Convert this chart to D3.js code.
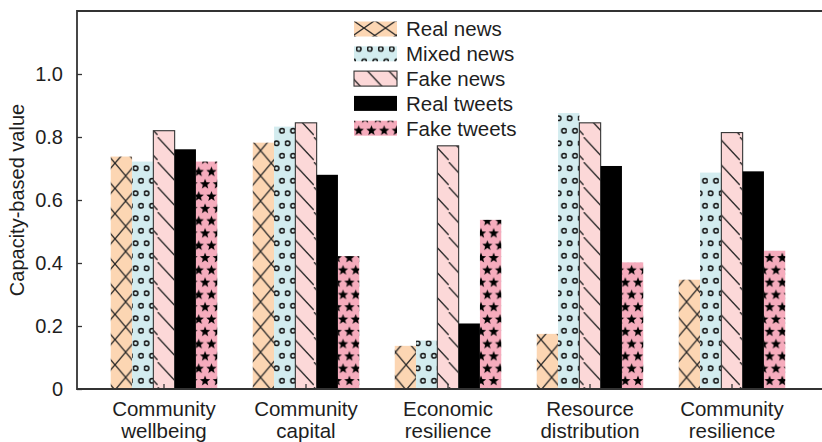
<!DOCTYPE html>
<html>
<head>
<meta charset="utf-8">
<script src="https://cdn.jsdelivr.net/npm/d3@7"></script>
<style>
  html, body { margin: 0; padding: 0; background: #fff; }
  svg { display: block; font-family: "Liberation Sans", Arial, sans-serif; }
</style>
</head>
<body>
<svg id="chart" width="822" height="442"></svg>
<script>
// Categories (two-line labels) and series
const categories = [
  ["Community", "wellbeing"],
  ["Community", "capital"],
  ["Economic", "resilience"],
  ["Resource", "distribution"],
  ["Community", "resilience"]
];
const seriesNames = ["Real news", "Mixed news", "Fake news", "Real tweets", "Fake tweets"];

const realNews   = [0.738, 0.782, 0.137, 0.175, 0.347];
const mixedNews  = [0.722, 0.833, 0.154, 0.876, 0.687];
const fakeNews   = [0.820, 0.845, 0.772, 0.845, 0.814];
const realTweets = [0.761, 0.680, 0.208, 0.708, 0.691];
const fakeTweets = [0.722, 0.422, 0.537, 0.402, 0.439];

const yTicks = [0, 0.2, 0.4, 0.6, 0.8, 1.0];
const yTitle = "Capacity-based value";

const seriesValues = [realNews, mixedNews, fakeNews, realTweets, fakeTweets];
const fills = ["#fcd6b3", "#d3ecef", "#fcd8d8", "#000000", "#f6acbd"];
const ink = "#262626";
const axisColor = "#333";
const textColor = "#1e1e1e";

const svg = d3.select("#chart");
const defs = svg.append("defs");

const margin = { left: 77, top: 11, bottom: 389 };
const y = d3.scaleLinear().domain([0, 1.2]).range([margin.bottom, margin.top]);
const x0 = d3.scaleBand().domain(d3.range(categories.length))
  .range([93, 803]).paddingInner(0.25).paddingOuter(0.125);
const x1 = d3.scaleBand().domain(d3.range(seriesNames.length))
  .range([0, x0.bandwidth()]);
const bw = x1.bandwidth();

// star path for the tweet pattern
function starPath(cx, cy, rOuter, rInner) {
  const pts = [];
  for (let i = 0; i < 10; i++) {
    const r = i % 2 === 0 ? rOuter : rInner;
    const a = -Math.PI / 2 + i * Math.PI / 5;
    pts.push([cx + r * Math.cos(a), cy + r * Math.sin(a)]);
  }
  return "M" + pts.map(p => p[0].toFixed(2) + "," + p[1].toFixed(2)).join("L") + "Z";
}

// Build a pattern anchored at (px, py) for the given series
function makePattern(id, s, px, py, cellW, cellH) {
  const p = defs.append("pattern")
    .attr("id", id)
    .attr("patternUnits", "userSpaceOnUse")
    .attr("x", px).attr("y", py);
  if (s === 0) {
    p.attr("width", cellW).attr("height", cellH);
    p.append("rect").attr("width", cellW).attr("height", cellH).attr("fill", fills[0]);
    p.append("path")
      .attr("d", `M0,0L${cellW},${cellH}M${cellW},0L0,${cellH}`)
      .attr("stroke", ink).attr("stroke-width", 1.3).attr("fill", "none");
  } else if (s === 1) {
    const w = 11, h = 25;
    p.attr("width", w).attr("height", h);
    p.append("rect").attr("width", w).attr("height", h).attr("fill", fills[1]);
    [[2.75, 6.25], [8.25, 18.75]].forEach(([cx, cy]) => {
      p.append("circle").attr("cx", cx).attr("cy", cy).attr("r", 2.3)
        .attr("fill", "none").attr("stroke", "#1a1a1a").attr("stroke-width", 1.6);
    });
  } else if (s === 2) {
    const w = cellW, h = 25;
    p.attr("width", w).attr("height", h);
    p.append("rect").attr("width", w).attr("height", h).attr("fill", fills[2]);
    p.append("path")
      .attr("d", `M0,0L${w},${h * 0.92}`)
      .attr("stroke", ink).attr("stroke-width", 1.3).attr("fill", "none");
  } else if (s === 4) {
    const w = 12.7, h = 24.6;
    p.attr("width", w).attr("height", h);
    p.append("rect").attr("width", w).attr("height", h).attr("fill", fills[4]);
    const stars = [[0, 0], [w, 0], [0, h], [w, h], [w / 2, h / 2]];
    stars.forEach(([cx, cy]) => {
      p.append("path").attr("d", starPath(cx, cy, 5.4, 2.3)).attr("fill", "#000");
    });
  }
  return `url(#${id})`;
}

function fillFor(s, id, px, py, cellW, cellH) {
  if (s === 3) return fills[3];
  return makePattern(id, s, px, py, cellW, cellH);
}

// Frame: left axis, bottom axis and top border
svg.append("path")
  .attr("d", `M830,${margin.top}H${margin.left}V${margin.bottom}H830`)
  .attr("fill", "none").attr("stroke", axisColor).attr("stroke-width", 1.8);

// Bars
const groups = svg.append("g").selectAll("g")
  .data(categories)
  .join("g")
  .attr("transform", (d, i) => `translate(${x0(i)},0)`);

groups.each(function (cat, ci) {
  const g = d3.select(this);
  seriesValues.forEach((vals, s) => {
    const bx = x0(ci) + x1(s);
    const top = y(vals[ci]);
    const f = fillFor(s, `pat-${s}-${ci}`, bx, margin.top + 1, bw, 25.2);
    g.append("rect")
      .attr("x", x1(s))
      .attr("y", top)
      .attr("width", bw)
      .attr("height", y(0) - top)
      .attr("fill", f)
      .attr("stroke", s === 2 ? "#333" : "none")
      .attr("stroke-width", s === 2 ? 1.1 : 0);
  });
});

// baseline drawn over the bars
svg.append("line")
  .attr("x1", margin.left).attr("x2", 830)
  .attr("y1", margin.bottom).attr("y2", margin.bottom)
  .attr("stroke", axisColor).attr("stroke-width", 1.8);

// Y axis ticks (inward) and labels
const yAxis = d3.axisLeft(y).tickValues(yTicks).tickSizeInner(-5).tickSizeOuter(0)
  .tickPadding(14)
  .tickFormat(d => d === 0 ? "0" : d3.format(".1f")(d));
const yg = svg.append("g").attr("transform", `translate(${margin.left},0)`).call(yAxis);
yg.select(".domain").remove();
yg.selectAll(".tick line").attr("stroke", axisColor).attr("stroke-width", 1.3);
yg.selectAll(".tick text")
  .attr("fill", textColor)
  .style("font-size", "20px")
  .style("font-family", "'Liberation Sans', Arial, sans-serif");

// X axis small inward ticks at category centers
const xCenters = categories.map((d, i) => x0(i) + x0.bandwidth() / 2);
svg.append("g").selectAll("line")
  .data(xCenters)
  .join("line")
  .attr("x1", d => d).attr("x2", d => d)
  .attr("y1", margin.bottom).attr("y2", margin.bottom - 5)
  .attr("stroke", axisColor).attr("stroke-width", 1.3);

// Category labels
const xl = svg.append("g").selectAll("text")
  .data(categories)
  .join("text")
  .attr("x", (d, i) => xCenters[i])
  .attr("y", 415.5)
  .attr("text-anchor", "middle")
  .attr("fill", textColor)
  .style("font-size", "20.5px");
xl.selectAll("tspan")
  .data(d => d)
  .join("tspan")
  .attr("x", function () { return d3.select(this.parentNode).attr("x"); })
  .attr("dy", (d, i) => i === 0 ? 0 : 22.5)
  .text(d => d);

// Y title
svg.append("text")
  .attr("transform", `translate(24,${(margin.top + margin.bottom) / 2}) rotate(-90)`)
  .attr("text-anchor", "middle")
  .attr("fill", textColor)
  .style("font-size", "20px")
  .text(yTitle);

// Legend
const legend = svg.append("g").attr("transform", "translate(354,21.5)");
const legRowH = 24.8, patchW = 43, patchH = 15;
seriesNames.forEach((name, s) => {
  const row = legend.append("g").attr("transform", `translate(0,${s * legRowH})`);
  const f = fillFor(s, `leg-${s}`, 354, 21.5 + s * legRowH, patchW / 2, patchH);
  row.append("rect")
    .attr("width", patchW).attr("height", patchH)
    .attr("fill", f)
    .attr("stroke", s === 2 ? "#333" : "none")
    .attr("stroke-width", s === 2 ? 1.1 : 0);
  row.append("text")
    .attr("x", 52).attr("y", patchH / 2)
    .attr("dy", "0.36em")
    .attr("fill", textColor)
    .style("font-size", "20.5px")
    .text(name);
});
</script>
</body>
</html>
